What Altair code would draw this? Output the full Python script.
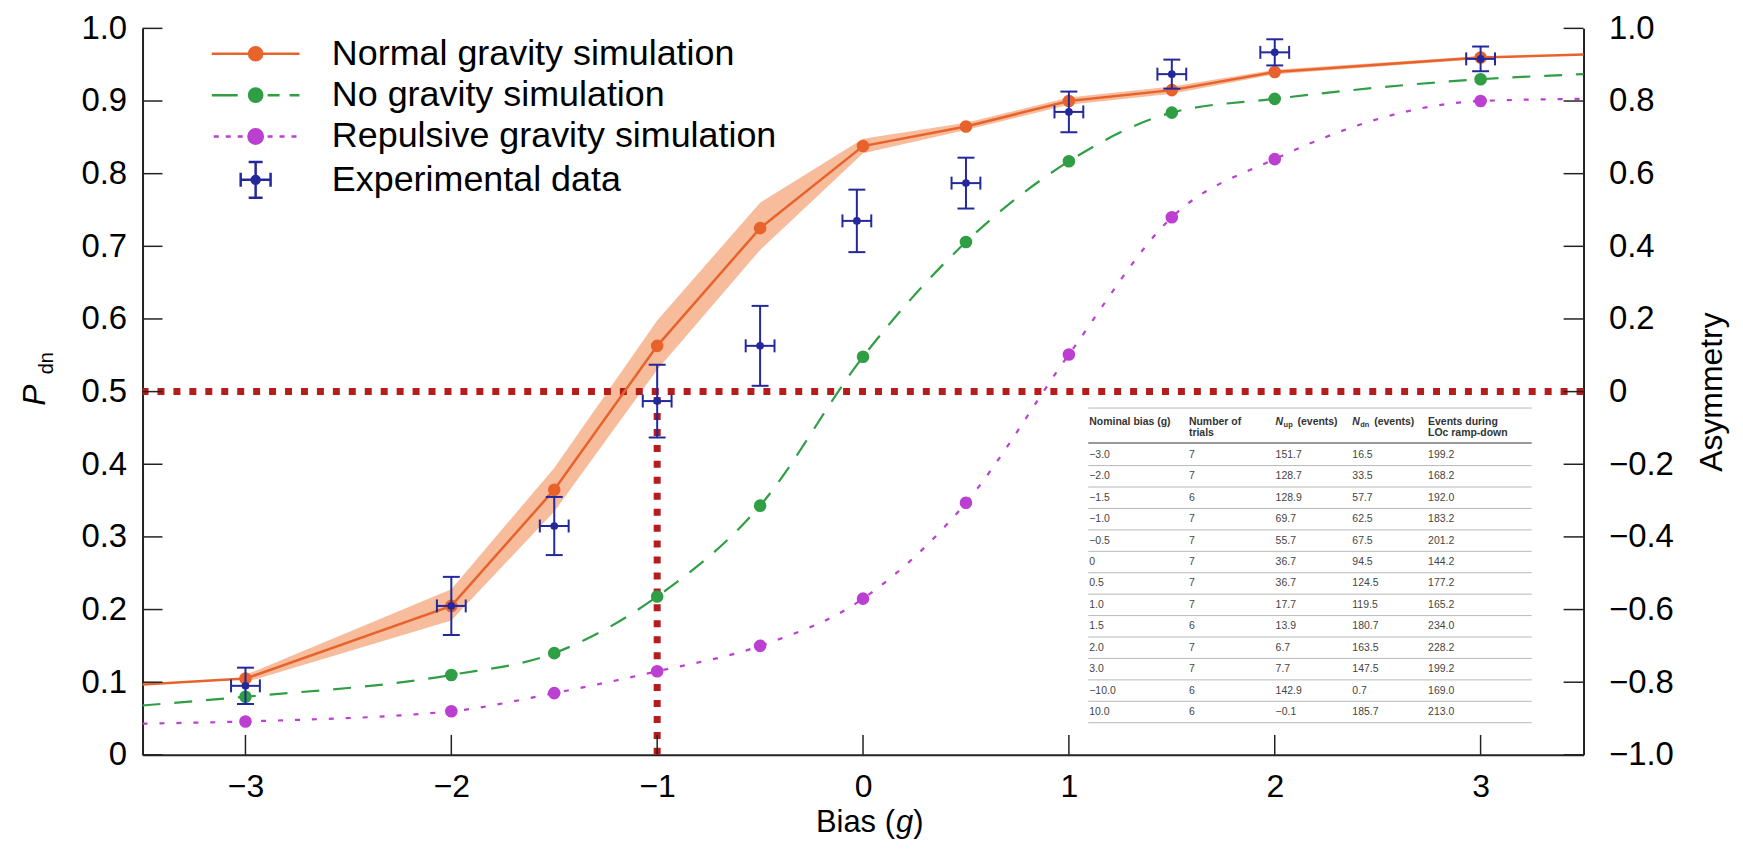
import altair as alt
import pandas as pd

# ---------------- data ----------------
series_names = ["Normal gravity simulation", "No gravity simulation",
                "Repulsive gravity simulation", "Experimental data"]

bias_sim = [-3.0, -2.0, -1.5, -1.0, -0.5, 0.0, 0.5, 1.0, 1.5, 2.0, 3.0]
p_normal = [0.105, 0.205, 0.365, 0.563, 0.725, 0.838, 0.865, 0.900, 0.915, 0.940, 0.960]
p_nograv = [0.080, 0.110, 0.140, 0.218, 0.343, 0.548, 0.706, 0.817, 0.884, 0.903, 0.930]
p_repuls = [0.046, 0.060, 0.085, 0.115, 0.150, 0.215, 0.347, 0.551, 0.740, 0.820, 0.900]

bias_edge = [-3.5, 3.5]
p_normal_edge = [0.097, 0.964]
p_nograv_edge = [0.068, 0.937]
p_repuls_edge = [0.043, 0.903]

band_low = [0.100, 0.185, 0.335, 0.530, 0.695, 0.828, 0.860, 0.895, 0.910, 0.937, 0.958]
band_high = [0.110, 0.228, 0.395, 0.598, 0.760, 0.848, 0.870, 0.905, 0.920, 0.943, 0.962]

bias_exp = [-3.0, -2.0, -1.5, -1.0, -0.5, -0.03, 0.5, 1.0, 1.5, 2.0, 3.0]
p_exp = [0.095, 0.205, 0.315, 0.487, 0.563, 0.735, 0.787, 0.885, 0.937, 0.967, 0.958]
p_exp_err = [0.025, 0.040, 0.040, 0.050, 0.055, 0.043, 0.035, 0.028, 0.020, 0.018, 0.017]
bias_exp_err = [0.07, 0.07, 0.07, 0.07, 0.07, 0.07, 0.07, 0.07, 0.07, 0.07, 0.07]

threshold_p = [0.5]
crossing_bias = [-1.0]
crossing_floor = [0.0]

p_ticks = [0.0, 0.1, 0.2, 0.3, 0.4, 0.5, 0.6, 0.7, 0.8, 0.9, 1.0]
asym_ticks = [-1.0, -0.8, -0.6, -0.4, -0.2, 0.0, 0.2, 0.4, 0.6, 0.8, 1.0]
bias_ticks = [-3, -2, -1, 0, 1, 2, 3]

table_bias = ["−3.0", "−2.0", "−1.5", "−1.0", "−0.5", "0", "0.5", "1.0", "1.5", "2.0", "3.0", "−10.0", "10.0"]
table_trials = ["7", "7", "6", "7", "7", "7", "7", "7", "6", "7", "7", "6", "6"]
table_nup = ["151.7", "128.7", "128.9", "69.7", "55.7", "36.7", "36.7", "17.7", "13.9", "6.7", "7.7", "142.9", "−0.1"]
table_ndn = ["16.5", "33.5", "57.7", "62.5", "67.5", "94.5", "124.5", "119.5", "180.7", "163.5", "147.5", "0.7", "185.7"]
table_events = ["199.2", "168.2", "192.0", "183.2", "201.2", "144.2", "177.2", "165.2", "234.0", "228.2", "199.2", "169.0", "213.0"]

# ---------------- style / layout ----------------
W, H = 1446, 729
FONT = "Liberation Sans"
C_ORANGE = "#e8632b"
C_BAND = "#f4a67b"
C_GREEN = "#2f9e44"
C_MAGENTA = "#bb3fd0"
C_BLUE = "#23289c"
C_RED = "#b51d1d"
series_colors = [C_ORANGE, C_GREEN, C_MAGENTA, C_BLUE]

dot = lambda r: f"M-{r},0A{r},{r},0,1,1,{r},0A{r},{r},0,1,1,-{r},0Z"
legend_paths = [
    "M-2.2,0L2.2,0" + dot(0.33),
    "M-2.2,0L-0.9,0M0.6,0L1.2,0M1.7,0L2.2,0" + dot(0.33),
    "M-2.1,0L-1.85,0M-1.5,0L-1.25,0M-0.9,0L-0.65,0M0.6,0L0.85,0M1.2,0L1.45,0M1.8,0L2.05,0" + dot(0.36),
    "M-0.75,0L0.75,0M-0.75,-0.35L-0.75,0.35M0.75,-0.35L0.75,0.35M0,-0.9L0,0.9"
    "M-0.35,-0.9L0.35,-0.9M-0.35,0.9L0.35,0.9" + dot(0.2),
]

x_scale = alt.Scale(domain=[-3.5, 3.5], nice=False, zero=False)
y_scale = alt.Scale(domain=[0, 1], nice=False, zero=False)
x_axis = alt.Axis(values=bias_ticks, format="d", title=None, ticks=False, tickSize=0,
                  labelPadding=17, labelFontSize=32, grid=False)
y_axis = alt.Axis(values=p_ticks, title=None, ticks=False, tickSize=0, labelPadding=16, grid=False,
                  labelExpr="datum.value == 0 ? '0' : format(datum.value, '.1f')")


def xe(field):
    return alt.X(f"{field}:Q", scale=x_scale, axis=x_axis)


def ye(field):
    return alt.Y(f"{field}:Q", scale=y_scale, axis=y_axis)


def sim_frame(values, edges):
    return pd.DataFrame({
        "bias": [bias_edge[0]] + bias_sim + [bias_edge[1]],
        "p": [edges[0]] + values + [edges[1]],
        "marker": [False] + [True] * len(bias_sim) + [False],
    })


def label(text, x, y, size, **kw):
    return alt.Chart(pd.DataFrame({"t": [text]})).mark_text(
        font=FONT, fontSize=size, **kw).encode(text="t:N", x=alt.value(x), y=alt.value(y))


layers = []

# band
band_df = pd.DataFrame({"bias": bias_sim, "lo": band_low, "hi": band_high})
layers.append(alt.Chart(band_df).mark_area(color=C_BAND, opacity=0.75).encode(
    x=xe("bias"), y=ye("lo"), y2="hi:Q"))

# red dotted guides
layers.append(alt.Chart(pd.DataFrame({"p": threshold_p})).mark_rule(
    color=C_RED, strokeWidth=7, strokeDash=[7, 9]).encode(y=ye("p")))
layers.append(alt.Chart(pd.DataFrame({"bias": crossing_bias, "p0": crossing_floor, "p1": threshold_p})).mark_rule(
    color=C_RED, strokeWidth=7, strokeDash=[7, 9]).encode(x=xe("bias"), y=ye("p0"), y2="p1:Q"))

# simulation lines + points
for vals, edges, col, dash, sw, interp in [
    (p_normal, p_normal_edge, C_ORANGE, None, 2.5, "linear"),
    (p_nograv, p_nograv_edge, C_GREEN, [18, 14], 2.2, "monotone"),
    (p_repuls, p_repuls_edge, C_MAGENTA, [5, 12], 2.2, "monotone"),
]:
    df = sim_frame(vals, edges)
    kw = dict(color=col, strokeWidth=sw, interpolate=interp)
    if dash:
        kw["strokeDash"] = dash
    layers.append(alt.Chart(df).mark_line(**kw).encode(x=xe("bias"), y=ye("p")))
    layers.append(alt.Chart(df).transform_filter("datum.marker").mark_circle(
        color=col, size=160, opacity=1).encode(x=xe("bias"), y=ye("p")))

# experimental data with error bars
exp_df = pd.DataFrame({"bias": bias_exp, "p": p_exp, "pe": p_exp_err, "be": bias_exp_err})
exp = alt.Chart(exp_df).transform_calculate(
    plo="datum.p - datum.pe", phi="datum.p + datum.pe",
    blo="datum.bias - datum.be", bhi="datum.bias + datum.be")
layers += [
    exp.mark_rule(color=C_BLUE, strokeWidth=2).encode(x=xe("bias"), y=ye("plo"), y2="phi:Q"),
    exp.mark_rule(color=C_BLUE, strokeWidth=2).encode(x=xe("blo"), x2="bhi:Q", y=ye("p")),
    exp.mark_tick(color=C_BLUE, orient="horizontal", size=17, thickness=2, opacity=1).encode(x=xe("bias"), y=ye("plo")),
    exp.mark_tick(color=C_BLUE, orient="horizontal", size=17, thickness=2, opacity=1).encode(x=xe("bias"), y=ye("phi")),
    exp.mark_tick(color=C_BLUE, orient="vertical", size=13, thickness=2, opacity=1).encode(x=xe("blo"), y=ye("p")),
    exp.mark_tick(color=C_BLUE, orient="vertical", size=13, thickness=2, opacity=1).encode(x=xe("bhi"), y=ye("p")),
    exp.mark_circle(color=C_BLUE, size=60, opacity=1).encode(x=xe("bias"), y=ye("p")),
]

# inward ticks (left + bottom)
layers.append(alt.Chart(pd.DataFrame({"p": p_ticks})).mark_rule(color="#222", strokeWidth=1.5).encode(
    y=ye("p"), x=alt.value(0), x2=alt.value(20)))
layers.append(alt.Chart(pd.DataFrame({"bias": bias_ticks})).mark_rule(color="#222", strokeWidth=1.5).encode(
    x=xe("bias"), y=alt.value(H - 20), y2=alt.value(H)))

# legend (built from scales, no marks drawn)
leg = alt.Legend(orient="none", legendX=92, legendY=4, title=None, padding=0,
                 symbolSize=1600, symbolStrokeWidth=2.5, symbolOpacity=1,
                 labelFont=FONT, labelFontSize=36, labelColor="black", labelOffset=55,
                 labelLimit=900, rowPadding=1.5)
legend_df = pd.DataFrame({"series": series_names})
layers.append(alt.Chart(legend_df).transform_filter("false").mark_point(filled=True, opacity=1, size=1600).encode(
    fill=alt.Fill("series:N", scale=alt.Scale(domain=series_names, range=series_colors), legend=leg),
    stroke=alt.Stroke("series:N", scale=alt.Scale(domain=series_names, range=series_colors), legend=leg),
    shape=alt.Shape("series:N", scale=alt.Scale(domain=series_names, range=legend_paths), legend=leg),
))

# table
table_df = pd.DataFrame({"row": list(range(len(table_bias))), "c0": table_bias, "c1": table_trials,
                         "c2": table_nup, "c3": table_ndn, "c4": table_events})
col_x = [950, 1050, 1137, 1214, 1290]
tbl = alt.Chart(table_df).transform_calculate(ty="428 + 21.5*datum.row", ly="438.75 + 21.5*datum.row")
for i, cx in enumerate(col_x):
    layers.append(tbl.mark_text(align="left", baseline="middle", font=FONT, fontSize=10.5, color="#444").encode(
        x=alt.value(cx), y=alt.Y("ty:Q", scale=None), text=f"c{i}:N"))
layers.append(tbl.mark_rule(color="#b8b8b8", strokeWidth=1).encode(
    y=alt.Y("ly:Q", scale=None), x=alt.value(949), x2=alt.value(1394)))
for yy, col, sw in [(381, "#b8b8b8", 1), (416, "#777", 1.5)]:
    layers.append(alt.Chart(pd.DataFrame({"k": [0]})).mark_rule(color=col, strokeWidth=sw).encode(
        y=alt.value(yy), x=alt.value(949), x2=alt.value(1394)))
hdr = dict(align="left", baseline="middle", fontWeight="bold", color="#333")
layers += [
    label("Nominal bias (g)", col_x[0], 395, 10.5, **hdr),
    label("Number of", col_x[1], 395, 10.5, **hdr),
    label("trials", col_x[1], 406, 10.5, **hdr),
    label("N", col_x[2], 395, 10.5, fontStyle="italic", **hdr),
    label("up", col_x[2] + 8, 398, 7.5, **hdr),
    label("(events)", col_x[2] + 22, 395, 10.5, **hdr),
    label("N", col_x[3], 395, 10.5, fontStyle="italic", **hdr),
    label("dn", col_x[3] + 8, 398, 7.5, **hdr),
    label("(events)", col_x[3] + 22, 395, 10.5, **hdr),
    label("Events during", col_x[4], 395, 10.5, **hdr),
    label("LOc ramp-down", col_x[4], 406, 10.5, **hdr),
]

# axis titles (mixed styles)
TY = H + 77
layers += [
    label("P", -108, 368, 32, angle=270, fontStyle="italic", align="center", baseline="middle", color="black"),
    label("dn", -96, 336, 20, angle=270, align="center", baseline="middle", color="black"),
    label("Bias (", 755, TY, 31, align="right", baseline="alphabetic", color="black"),
    label("g", 756, TY, 31, fontStyle="italic", align="left", baseline="alphabetic", color="black"),
    label(")", 773.5, TY, 31, align="left", baseline="alphabetic", color="black"),
]

left = alt.layer(*layers)

right_axis = alt.Axis(orient="right", values=asym_ticks, ticks=False, tickSize=0, labelPadding=25, grid=False,
                      labelExpr="datum.value == 0 ? '0' : format(datum.value, '.1f')",
                      title="Asymmetry", titleAngle=270, titleX=128, titleY=H / 2,
                      titleAlign="center", titleBaseline="middle", titleFontSize=32,
                      titleFont=FONT, titleFontWeight="normal", titleColor="black")
right = alt.Chart(pd.DataFrame({"a": asym_ticks})).mark_rule(color="#222", strokeWidth=1.5).encode(
    y=alt.Y("a:Q", scale=alt.Scale(domain=[-1, 1], nice=False, zero=False), axis=right_axis),
    x=alt.value(W - 20), x2=alt.value(W))

chart = alt.layer(left, right).resolve_scale(y="independent").properties(
    width=W, height=H,
    padding={"left": 135, "top": 19, "right": 152, "bottom": 84},
    autosize=alt.AutoSizeParams(type="none"),
).configure_view(stroke=None).configure_axis(
    labelFont=FONT, labelFontSize=33, labelColor="black",
    domainColor="#222", domainWidth=2,
)

chart.save("out.html", embed_options={"renderer": "svg", "actions": False})
